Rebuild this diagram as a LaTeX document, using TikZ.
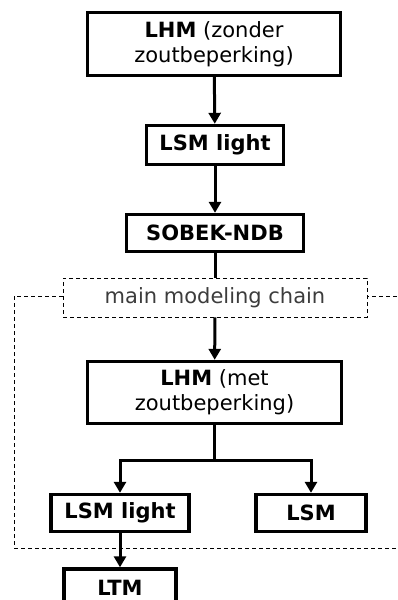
\documentclass[tikz,border=0pt]{standalone}
\usepackage{fontspec}
\setmainfont{DejaVu Sans}
\usetikzlibrary{arrows.meta}
\definecolor{lblgrey}{RGB}{60,60,60}
\tikzset{
  box/.style={draw=black, line width=3.4pt, align=center, font=\fontsize{21}{25}\selectfont, inner sep=0pt},
  lbl/.style={draw=black, line width=0.9pt, dash pattern=on 4pt off 3pt, font=\fontsize{21}{25}\selectfont, text=lblgrey, inner sep=0pt},
  frame/.style={draw=black, line width=0.9pt, dash pattern=on 4pt off 3pt},
  conn/.style={line width=3pt},
  arr/.style={line width=3pt, -{Triangle[width=12pt,length=11pt]}}
}
\begin{document}
\begin{tikzpicture}[x=1pt,y=-1pt]
\useasboundingbox (0,0) rectangle (398,600);
\clip (0,0) rectangle (398,600);
\node[box, minimum width=253pt, minimum height=63pt] (b1) at (214,44) {\textbf{LHM} (zonder\\zoutbeperking)};
\node[box, minimum width=137pt, minimum height=39pt] (b2) at (215,145) {\textbf{LSM light}};
\node[box, minimum width=177pt, minimum height=37pt] (b3) at (215,233) {\textbf{SOBEK-NDB}};
\node[lbl, minimum width=304pt, minimum height=39pt] (l) at (215,297.5) {main modeling chain};
\node[box, minimum width=254pt, minimum height=62pt] (b4) at (214.5,392.5) {\textbf{LHM} (met\\zoutbeperking)};
\node[box, minimum width=138pt, minimum height=37pt] (b5) at (120,513) {\textbf{LSM light}};
\node[box, minimum width=110pt, minimum height=37pt] (b6) at (311,513) {\textbf{LSM}};
\node[box, minimum width=112pt, minimum height=38pt] (b7) at (120,588) {\textbf{LTM}};
\coordinate (fl) at (14,296);
\coordinate (fr) at (412,296);
\draw[frame] (l.west |- fl) -- (fl) -- (14,548) -- (412,548) -- (fr) -- (l.east |- fr);
\draw[arr] (b1) -- (b2);
\draw[arr] (b2) -- (b3);
\draw[conn] (b3) -- (l);
\draw[arr] (l) -- (b4);
\coordinate (split) at (214.5,460);
\draw[conn] (b4.south) -- (split);
\draw[arr] (split) -| (b5.north);
\draw[arr] (split) -| (b6.north);
\draw[arr] (b5) -- (b7);
\end{tikzpicture}
\end{document}
